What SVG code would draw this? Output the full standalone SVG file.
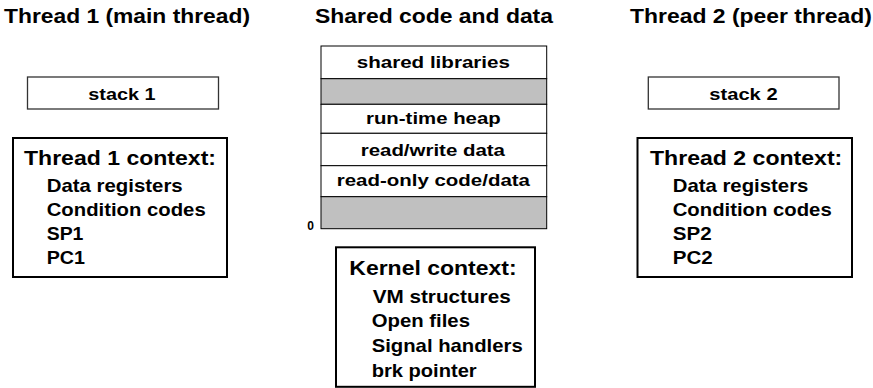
<svg xmlns="http://www.w3.org/2000/svg" width="873" height="388" viewBox="0 0 873 388">
<style>
text{font-family:"Liberation Sans",Arial,sans-serif;font-weight:bold;fill:#000}
.title{font-size:20px}
.head{font-size:20px}
.item{font-size:18.5px}
.lbl{font-size:17px;text-anchor:start}
.thin{fill:#fff;stroke:#333;stroke-width:1.3}
.ctx{fill:#fff;stroke:#000;stroke-width:2}
.row{fill:#fff;stroke:#000;stroke-width:1}
.gap{fill:#c0c0c0;stroke:#000;stroke-width:1}
</style>
<g id="titles">
<text class="title" x="4" y="23" textLength="246" lengthAdjust="spacingAndGlyphs">Thread 1 (main thread)</text>
<text class="title" x="315" y="23" textLength="238" lengthAdjust="spacingAndGlyphs">Shared code and data</text>
<text class="title" x="630" y="23" textLength="242" lengthAdjust="spacingAndGlyphs">Thread 2 (peer thread)</text>
</g>
<g id="stack1">
<rect class="thin" x="27.5" y="77" width="191" height="32"/>
<text class="lbl" x="88.3" y="100" textLength="67.3" lengthAdjust="spacingAndGlyphs">stack 1</text>
</g>
<g id="ctx1">
<rect class="ctx" x="13" y="138" width="214" height="139"/>
<text class="head" x="24" y="165" textLength="192" lengthAdjust="spacingAndGlyphs">Thread 1 context:</text>
<text class="item" x="46.7" y="191.7" textLength="136" lengthAdjust="spacingAndGlyphs">Data registers</text>
<text class="item" x="46.7" y="216" textLength="159" lengthAdjust="spacingAndGlyphs">Condition codes</text>
<text class="item" x="46.7" y="240" textLength="36.7" lengthAdjust="spacingAndGlyphs">SP1</text>
<text class="item" x="46.7" y="264.3" textLength="38.3" lengthAdjust="spacingAndGlyphs">PC1</text>
</g>
<g id="memory">
<rect class="row" x="321" y="46" width="225.7" height="32.7"/>
<rect class="gap" x="321" y="78.7" width="225.7" height="25.6"/>
<rect class="row" x="321" y="104.3" width="225.7" height="29"/>
<rect class="row" x="321" y="133.3" width="225.7" height="32.4"/>
<rect class="row" x="321" y="165.7" width="225.7" height="31"/>
<rect class="gap" x="321" y="196.7" width="225.7" height="32"/>
<text class="lbl" x="356.7" y="68.3" textLength="153.3" lengthAdjust="spacingAndGlyphs">shared libraries</text>
<text class="lbl" x="366" y="124" textLength="134.7" lengthAdjust="spacingAndGlyphs">run-time heap</text>
<text class="lbl" x="360.7" y="155.7" textLength="144.3" lengthAdjust="spacingAndGlyphs">read/write data</text>
<text class="lbl" x="336.7" y="186" textLength="193.3" lengthAdjust="spacingAndGlyphs">read-only code/data</text>
<text x="307.3" y="230" style="font-size:12px">0</text>
</g>
<g id="kernel">
<rect class="ctx" x="336" y="247.3" width="199" height="139.5"/>
<text class="head" x="349.3" y="275" textLength="167.3" lengthAdjust="spacingAndGlyphs">Kernel context:</text>
<text class="item" x="372.7" y="302.7" textLength="138" lengthAdjust="spacingAndGlyphs">VM structures</text>
<text class="item" x="371.7" y="326.7" textLength="98.3" lengthAdjust="spacingAndGlyphs">Open files</text>
<text class="item" x="371.7" y="351.7" textLength="151" lengthAdjust="spacingAndGlyphs">Signal handlers</text>
<text class="item" x="371.7" y="376.7" textLength="105" lengthAdjust="spacingAndGlyphs">brk pointer</text>
</g>
<g id="stack2">
<rect class="thin" x="648.3" y="77" width="190.7" height="32"/>
<text class="lbl" x="709.3" y="100" textLength="68.3" lengthAdjust="spacingAndGlyphs">stack 2</text>
</g>
<g id="ctx2">
<rect class="ctx" x="637.5" y="138" width="214.5" height="139"/>
<text class="head" x="650" y="165" textLength="192.3" lengthAdjust="spacingAndGlyphs">Thread 2 context:</text>
<text class="item" x="672.7" y="191.7" textLength="135.7" lengthAdjust="spacingAndGlyphs">Data registers</text>
<text class="item" x="672.7" y="216" textLength="159" lengthAdjust="spacingAndGlyphs">Condition codes</text>
<text class="item" x="672.7" y="240" textLength="38.9" lengthAdjust="spacingAndGlyphs">SP2</text>
<text class="item" x="672.7" y="264.3" textLength="40" lengthAdjust="spacingAndGlyphs">PC2</text>
</g>
<g id="connectors"></g>
</svg>
